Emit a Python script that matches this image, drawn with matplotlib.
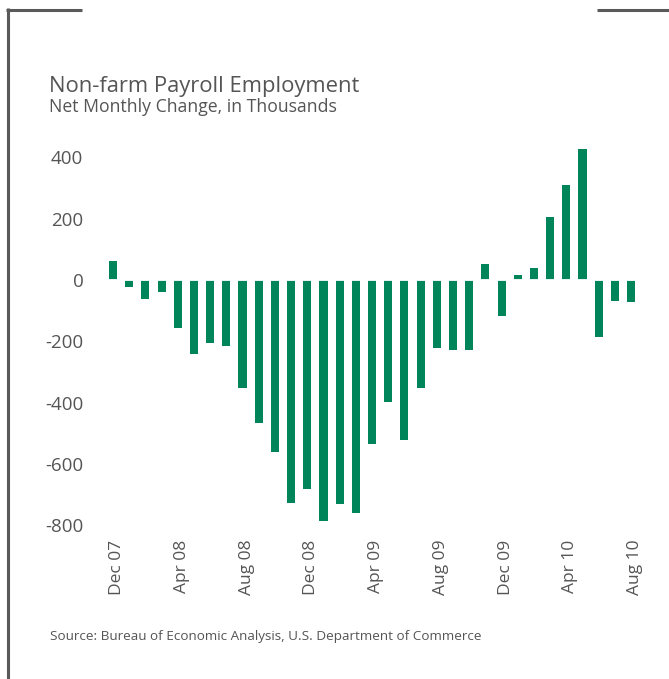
import matplotlib as mpl
mpl.use('Agg')
import matplotlib.pyplot as plt
import matplotlib.transforms as mtransforms
from matplotlib.lines import Line2D
import numpy as np

# Net monthly change in non-farm payrolls, thousands (Dec 2007 - Aug 2010)
months = ['Dec 07', 'Jan 08', 'Feb 08', 'Mar 08', 'Apr 08', 'May 08', 'Jun 08',
          'Jul 08', 'Aug 08', 'Sep 08', 'Oct 08', 'Nov 08', 'Dec 08', 'Jan 09',
          'Feb 09', 'Mar 09', 'Apr 09', 'May 09', 'Jun 09', 'Jul 09', 'Aug 09',
          'Sep 09', 'Oct 09', 'Nov 09', 'Dec 09', 'Jan 10', 'Feb 10', 'Mar 10',
          'Apr 10', 'May 10', 'Jun 10', 'Jul 10', 'Aug 10']
change = [62, -23, -62, -39, -157, -240, -207, -216, -354, -466, -560, -728,
          -682, -787, -731, -761, -534, -397, -521, -354, -223, -230, -230,
          52, -118, 15, 39, 207, 311, 426, -187, -69, -72]
yticks = [400, 200, 0, -200, -400, -600, -800]

GREEN = '#00845A'
GREY = '#555555'
plt.rcParams['font.family'] = ['Open Sans', 'DejaVu Sans']

W, H = 669, 679
fig = plt.figure(figsize=(W / 100, H / 100), dpi=100)

# axes box in pixel terms
left, right, top, bottom = 100, 645, 140, 530
ax = fig.add_axes([left / W, 1 - bottom / H, (right - left) / W, (bottom - top) / H])

x = np.arange(len(months))
ax.bar(x, change, width=0.5, color=GREEN, zorder=2)
ax.axhline(0, color='white', lw=1.3, zorder=3)

ax.set_xlim(-0.803, 32.86)
ax.set_ylim(-815.7, 456.8)
ax.set_yticks(yticks)
ax.set_yticklabels([str(v) for v in yticks])
ticks = x[::4]
ax.set_xticks(ticks)
ax.set_xticklabels([months[i] for i in ticks], rotation=90, va='top', ha='center')
ax.tick_params(axis='y', length=0, pad=12, labelsize=13.5, labelcolor=GREY)
ax.tick_params(axis='x', length=0, pad=7, labelsize=12.5, labelcolor=GREY)
shift = mtransforms.ScaledTranslation(4 / 100, 0, fig.dpi_scale_trans)
for lab in ax.get_xticklabels():
    lab.set_transform(lab.get_transform() + shift)
for s in ax.spines.values():
    s.set_visible(False)

fig.text(49 / W, 1 - 92 / H, 'Non-farm Payroll Employment', fontsize=15.8,
         color=GREY, va='baseline', ha='left')
fig.text(49 / W, 1 - 112 / H, 'Net Monthly Change, in Thousands', fontsize=12.7,
         color=GREY, va='baseline', ha='left')
fig.text(50 / W, 1 - 640 / H,
         'Source: Bureau of Economic Analysis, U.S. Department of Commerce',
         fontsize=9.7, color=GREY, va='baseline', ha='left')

# frame corners
fc = '#5a5a5a'
fig.add_artist(Line2D([7.5 / W, 7.5 / W], [0, 1 - 8 / H], color=fc, lw=2.2,
                      transform=fig.transFigure, solid_capstyle='butt'))
fig.add_artist(Line2D([6.5 / W, 82 / W], [1 - 9.5 / H, 1 - 9.5 / H], color=fc, lw=2.2,
                      transform=fig.transFigure, solid_capstyle='butt'))
fig.add_artist(Line2D([597 / W, 1], [1 - 9.5 / H, 1 - 9.5 / H], color=fc, lw=2.2,
                      transform=fig.transFigure, solid_capstyle='butt'))

fig.savefig('out.png', dpi=100)
